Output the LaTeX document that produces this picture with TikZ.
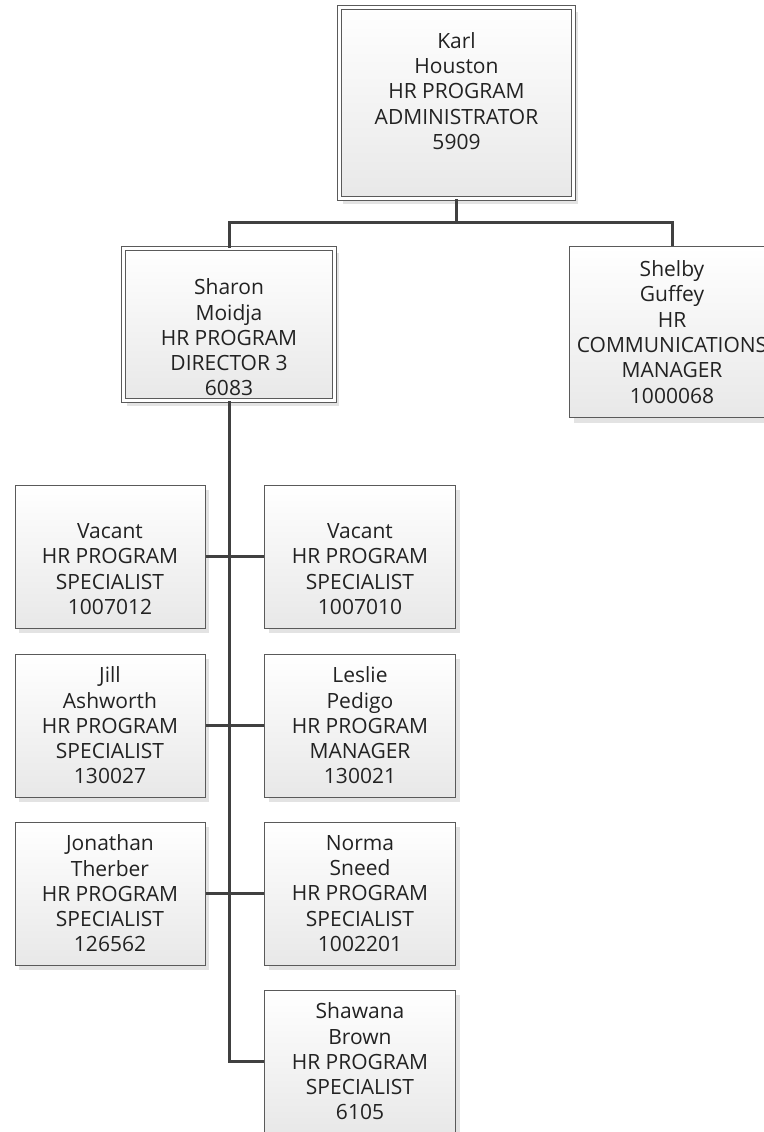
\documentclass[tikz,border=0pt]{standalone}
\usepackage{fontspec}
\setmainfont{Open Sans}
\usepackage{xcolor}
\usetikzlibrary{positioning, shadows}

\definecolor{linegray}{HTML}{404040}
\definecolor{boxedge}{HTML}{5A5A5A}
\definecolor{boxbot}{HTML}{E8E8E8}
\definecolor{shadegray}{HTML}{E3E3E3}
\definecolor{txtcol}{HTML}{222222}

\begin{document}
\begin{tikzpicture}[
  x=1pt, y=-1pt,
  card/.style={rectangle, draw=boxedge, line width=1pt, top color=white, bottom color=boxbot,
    general shadow={fill=shadegray, shadow xshift=4pt, shadow yshift=-5pt}, inner sep=0pt},
  head/.style={card, double=white, double distance=3pt, line width=0.9pt},
  staffbox/.style={card, minimum width=190pt, minimum height=143pt},
  txt/.style={align=center, inner sep=0pt, text=txtcol, font=\fontsize{21}{25.3}\selectfont},
  conn/.style={draw=linegray, line width=3pt}
]
  \useasboundingbox (0,0) rectangle (763,1132);

  % top of the chart
  \node[head, minimum width=234.2pt, minimum height=191.2pt] (karl) at (456.5,103) {};
  \node[txt] (karlt) at ([yshift=12pt]karl.center) {Karl\\Houston\\HR PROGRAM\\ADMINISTRATOR\\5909};

  \node[head, minimum width=211.2pt, minimum height=152.2pt] (sharon) at (229,324.5) {};
  \node[txt] (sharont) at ([yshift=-13pt]sharon.center) {Sharon\\Moidja\\HR PROGRAM\\DIRECTOR 3\\6083};

  \node[card, minimum width=205pt, minimum height=171pt] (shelby) at (672,332) {};
  \node[txt] (shelbyt) at (shelby.center) {Shelby\\Guffey\\HR\\COMMUNICATIONS\\MANAGER\\1000068};

  % staff under Sharon, left column
  \node[staffbox] (l1) at (110,556.5) {};
  \node[txt] (l1t) at ([yshift=-12.5pt]l1.center) {Vacant\\HR PROGRAM\\SPECIALIST\\1007012};
  \node[staffbox] (l2) at (110,725.5) {};
  \node[txt] (l2t) at (l2.center) {Jill\\Ashworth\\HR PROGRAM\\SPECIALIST\\130027};
  \node[staffbox] (l3) at (110,893.5) {};
  \node[txt] (l3t) at (l3.center) {Jonathan\\Therber\\HR PROGRAM\\SPECIALIST\\126562};

  % right column
  \node[staffbox, minimum width=191pt] (r1) at (360,556.5) {};
  \node[txt] (r1t) at ([yshift=-12.5pt]r1.center) {Vacant\\HR PROGRAM\\SPECIALIST\\1007010};
  \node[staffbox, minimum width=191pt] (r2) at (360,725.5) {};
  \node[txt] (r2t) at (r2.center) {Leslie\\Pedigo\\HR PROGRAM\\MANAGER\\130021};
  \node[staffbox, minimum width=191pt] (r3) at (360,893.5) {};
  \node[txt] (r3t) at (r3.center) {Norma\\Sneed\\HR PROGRAM\\SPECIALIST\\1002201};
  \node[staffbox, minimum width=191pt] (r4) at (360,1061.5) {};
  \node[txt] (r4t) at (r4.center) {Shawana\\Brown\\HR PROGRAM\\SPECIALIST\\6105};

  % connectors
  \coordinate (bus) at (456.5,222);
  \draw[conn] (karl.south) -- (bus);
  \draw[conn] (bus) -| (sharon.north);
  \draw[conn] (bus) -| (shelby.north);
  \draw[conn] (sharon.south) |- (r4.west);
  \draw[conn] (l1.east) -- (r1.west);
  \draw[conn] (l2.east) -- (r2.west);
  \draw[conn] (l3.east) -- (r3.west);
\end{tikzpicture}
\end{document}
